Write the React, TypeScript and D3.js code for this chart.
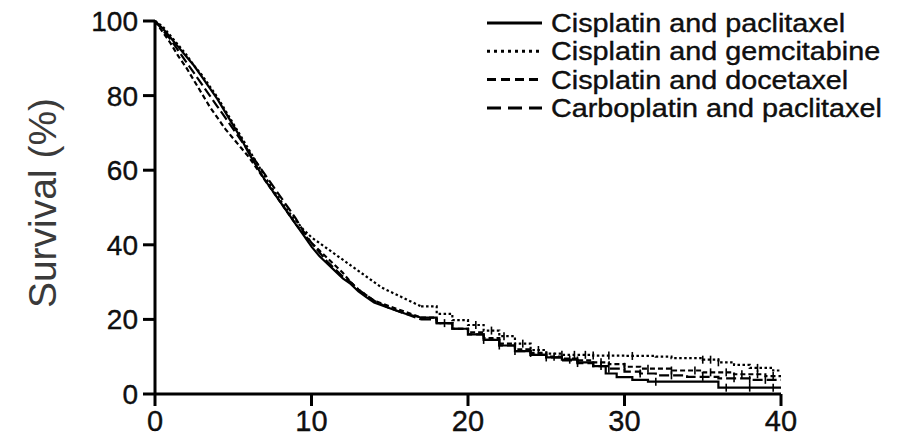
import React from "react";
import * as d3 from "d3";

const xTicks = [0, 10, 20, 30, 40];
const yTicks = [0, 20, 40, 60, 80, 100];

const seriesNames = [
  "Cisplatin and paclitaxel",
  "Cisplatin and gemcitabine",
  "Cisplatin and docetaxel",
  "Carboplatin and paclitaxel",
];

// [month, survival %] points
const cisPac: [number, number][] = [
  [0, 100], [0.5, 98], [1, 95.5], [1.5, 93], [2, 90.5], [2.5, 88], [3, 85], [3.5, 82],
  [4, 79], [4.5, 75.5], [5, 72], [5.5, 68.5], [6, 64.5], [6.5, 61], [7, 57.5], [7.5, 54.5],
  [8, 51.5], [8.5, 48.5], [9, 45.5], [9.5, 42.5], [10, 39.5], [10.5, 37], [11, 35], [11.5, 33],
  [12, 31], [12.5, 29.5], [13, 27.5], [13.5, 26], [14, 24.5], [15, 23], [16, 21.5], [17, 20.5],
  [18, 19], [19, 17.5], [20, 16], [21, 14.5], [22, 13], [23, 11.5], [24, 10.5], [25, 9.8],
  [26, 9.2], [27, 8.5], [28, 7.5], [28.8, 5.5], [29.5, 4.5], [30.5, 3.8], [31.5, 3.3],
  [36, 1.7], [40, 1.7],
];
const cisGem: [number, number][] = [
  [0, 100], [0.5, 98.5], [1, 96], [1.5, 93.5], [2, 91], [2.5, 88], [3, 85.5], [3.5, 82.5],
  [4, 79.5], [4.5, 76], [5, 72.5], [5.5, 69], [6, 65.5], [6.5, 62], [7, 58.5], [7.5, 55],
  [8, 52], [8.5, 49], [9, 46.5], [9.5, 44], [10, 42], [10.5, 40.5], [11, 39], [11.5, 37.5],
  [12, 36], [12.5, 34.5], [13, 33], [13.5, 31.5], [14, 30], [14.5, 28.5], [15, 27.5],
  [16, 25.5], [17, 23.5], [18, 21.5], [19, 19.8], [20, 18.5], [21, 17], [22, 15.5],
  [23, 13.5], [24, 11.8], [25, 10.8], [26, 10.5], [28, 10.3], [30, 10.2], [32, 10],
  [33, 9.6], [35, 9.2], [36, 8.5], [37, 7.8], [38, 7], [39.5, 6.3], [40, 6.3],
];
const cisDoc: [number, number][] = [
  [0, 100], [0.5, 97], [1, 94], [1.5, 90.5], [2, 87.5], [2.5, 84], [3, 80.5], [3.5, 77],
  [4, 74], [4.5, 71], [5, 68.5], [5.5, 66], [6, 63.5], [6.5, 60.5], [7, 57.5], [7.5, 54.5],
  [8, 51.5], [8.5, 48.5], [9, 45.5], [9.5, 43], [10, 40.5], [10.5, 38.5], [11, 36.5],
  [11.5, 34.5], [12, 32.5], [12.5, 30], [13, 28], [13.5, 26.5], [14, 25], [15, 23.5],
  [16, 22], [17, 20.5], [18, 19], [19, 17.5], [20, 16.5], [21, 15], [22, 13.5], [23, 12],
  [24, 11], [25, 10], [26, 9.5], [27, 9], [28, 8.5], [29, 8], [30, 7.3], [31, 6.8],
  [33, 6.3], [35, 5.8], [37, 5.3], [39, 4.8], [40, 4.8],
];
const carboPac: [number, number][] = [
  [0, 100], [0.5, 97.5], [1, 95], [1.5, 92], [2, 89], [2.5, 86], [3, 83], [3.5, 80],
  [4, 77], [4.5, 74], [5, 71], [5.5, 68], [6, 65], [6.5, 62], [7, 59], [7.5, 56], [8, 53],
  [8.5, 50], [9, 47], [9.5, 43.5], [10, 40.5], [10.5, 38], [11, 35.5], [11.5, 33.5],
  [12, 31.5], [12.5, 30], [13, 28], [13.5, 26.5], [14, 25], [15, 23], [16, 21.5], [17, 20],
  [18, 19], [19, 17.5], [20, 16], [21, 14.5], [22, 13], [23, 11.5], [24, 10.5], [25, 9.8],
  [26, 9], [27, 8.3], [28, 7.5], [29, 6.8], [30, 6], [31, 5.5], [32, 5], [34, 4.6],
  [36, 4.2], [38, 3.8], [40, 3.8],
];

const censorCisPac = [18.5, 21, 26.5, 28.5, 32, 36.5, 38, 39.5];
const censorCisGem = [20.5, 21.5, 22.3, 23.5, 24.5, 26, 26.8, 27.5, 28, 29, 30.5, 35, 35.5, 36, 38.5];
const censorCisDoc = [24, 25.5, 27, 28.5, 30, 31.5, 33, 34.5, 35.5, 36.5, 37.5, 38.5, 39.5];
const censorCarboPac = [22, 23, 25, 27, 29, 31, 33, 35, 37, 38, 39];

// many small events early: drawn as a continuous trace; sparse events later: drawn as steps
const STEP_FROM = 17;

const W = 906;
const H = 436;
const x = d3.scaleLinear().domain([0, 40]).range([155, 781]);
const y = d3.scaleLinear().domain([0, 100]).range([394, 21]);

const series = [
  { name: seriesNames[0], data: cisPac, censor: censorCisPac, dash: "none" },
  { name: seriesNames[1], data: cisGem, censor: censorCisGem, dash: "2.5,2.5" },
  { name: seriesNames[2], data: cisDoc, censor: censorCisDoc, dash: "5,3" },
  { name: seriesNames[3], data: carboPac, censor: censorCarboPac, dash: "10,4" },
];

const legendDash = ["none", "3,4", "9,5", "14,7"];

function valueAt(data: [number, number][], t: number) {
  let v = data[0][1];
  for (const [tt, s] of data) {
    if (tt <= t) v = s;
    else break;
  }
  return v;
}

export default function App() {
  const lin = d3
    .line<[number, number]>()
    .x((d) => x(d[0]))
    .y((d) => y(d[1]))
    .curve(d3.curveLinear);
  const step = d3
    .line<[number, number]>()
    .x((d) => x(d[0]))
    .y((d) => y(d[1]))
    .curve(d3.curveStepAfter);
  const font = "Arial, 'Liberation Sans', Helvetica, sans-serif";
  const textStroke = { stroke: "#000", strokeWidth: 0.35 };
  return (
    <svg width={W} height={H} style={{ position: "absolute", left: 0, top: 0, background: "#fff" }}>
      <rect width={W} height={H} fill="#fff" />
      {series.map((s, i) => {
        const early = s.data.filter((d) => d[0] <= STEP_FROM);
        const late = s.data.filter((d) => d[0] >= STEP_FROM);
        const d = (lin(early) || "") + (step(late) || "");
        return (
          <g key={i}>
            <path d={d} fill="none" stroke="#000" strokeWidth={2.2} strokeDasharray={s.dash} />
            {s.censor.map((t, j) => {
              const v = valueAt(s.data, t);
              return (
                <line key={j} x1={x(t)} x2={x(t)} y1={y(v) - 4} y2={y(v) + 4} stroke="#000" strokeWidth={1.6} />
              );
            })}
          </g>
        );
      })}
      {/* axes */}
      <line x1={x(0)} x2={x(0)} y1={y(0)} y2={y(100)} stroke="#000" strokeWidth={3} />
      <line x1={x(0)} x2={x(40)} y1={y(0)} y2={y(0)} stroke="#000" strokeWidth={3} />
      {yTicks.map((t) => (
        <g key={"y" + t}>
          <line x1={x(0) - 12} x2={x(0)} y1={y(t)} y2={y(t)} stroke="#000" strokeWidth={3} />
          <text x={x(0) - 17} y={y(t)} dy="0.36em" textAnchor="end" fontSize={28} fontFamily={font} fill="#111" {...textStroke}>
            {t}
          </text>
        </g>
      ))}
      {xTicks.map((t) => (
        <g key={"x" + t}>
          <line x1={x(t)} x2={x(t)} y1={y(0)} y2={y(0) + 12} stroke="#000" strokeWidth={3} />
          <text x={x(t)} y={y(0) + 37} textAnchor="middle" fontSize={29} fontFamily={font} fill="#111" {...textStroke}>
            {t}
          </text>
        </g>
      ))}
      <text
        transform={`translate(56,203) rotate(-90)`}
        textAnchor="middle"
        fontSize={39}
        fontFamily={font}
        fill="#3a3a3a"
      >
        Survival (%)
      </text>
      {/* legend */}
      {series.map((s, i) => {
        const ly = 23 + i * 28.3;
        return (
          <g key={"l" + i}>
            <line x1={487} x2={542} y1={ly} y2={ly} stroke="#000" strokeWidth={3} strokeDasharray={legendDash[i]} />
            <g transform={`translate(551,${ly}) scale(1.15,1)`}>
              <text x={0} y={0} dy="0.36em" fontSize={25} fontFamily={font} fill="#111" {...textStroke}>
                {s.name}
              </text>
            </g>
          </g>
        );
      })}
    </svg>
  );
}
